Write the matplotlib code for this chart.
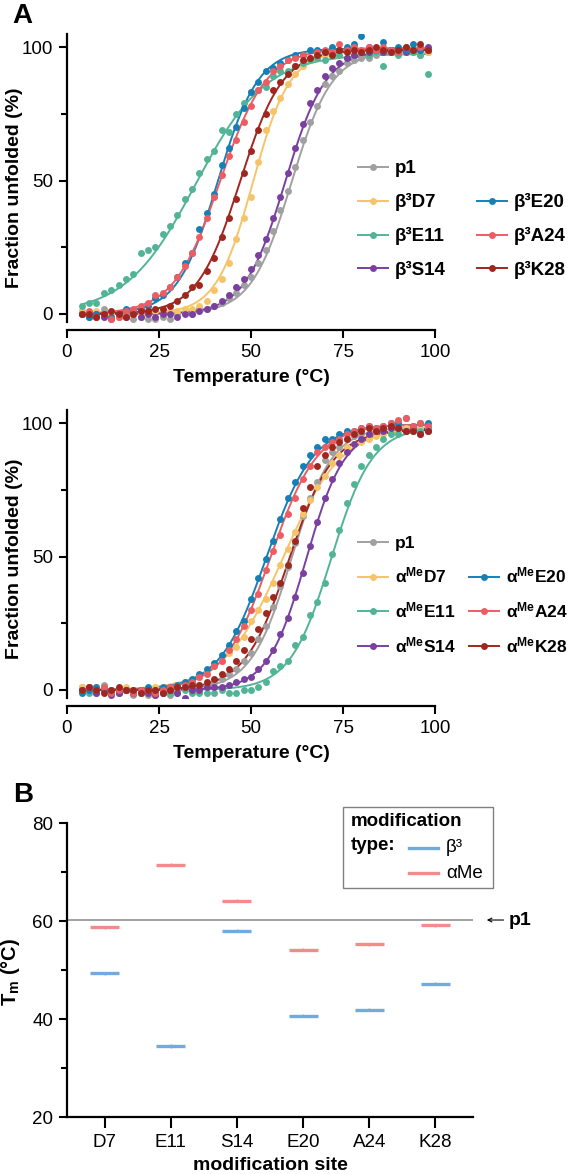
import matplotlib
import numpy as np

matplotlib.use("Agg")
import matplotlib.pyplot as plt
from matplotlib.lines import Line2D
from matplotlib.patches import Rectangle

plt.rcParams["font.family"] = ["Liberation Sans", "DejaVu Sans"]
plt.rcParams["mathtext.fontset"] = "custom"
plt.rcParams["mathtext.rm"] = "Liberation Sans"
plt.rcParams["mathtext.bf"] = "Liberation Sans:bold"
plt.rcParams["mathtext.it"] = "Liberation Sans:italic"

# measurement temperatures (deg C)
temps = [4, 6, 8, 10, 12, 14, 16, 18, 20, 22, 24, 26, 28, 30, 32, 34,
         36, 38, 40, 42, 44, 46, 48, 50, 52, 54, 56, 58, 60, 62, 64, 66,
         68, 70, 72, 74, 76, 78, 80, 82, 84, 86, 88, 90, 92, 94, 96, 98]

# fraction unfolded (%)
p1 = [1, 0, -1, 2, 0, -1, 0, -2, -1, -2, -2, -1, -2, 0, 1, 0,
      2, 2, 3, 4, 6, 8, 11, 14, 19, 24, 31, 39, 46, 55, 65, 72,
      78, 86, 89, 91, 94, 95, 96, 96, 97, 98, 98, 98, 98, 98, 97, 98]
b3_d7 = [1, 0, 1, -1, 0, -1, -1, 0, 0, 0, 1, 0, 1, 1, 2, 2,
         3, 5, 9, 13, 19, 28, 36, 44, 57, 69, 76, 81, 86, 90, 93, 95,
         96, 97, 98, 97, 98, 99, 98, 99, 98, 99, 98, 99, 98, 99, 98, 98]
b3_e11 = [3, 4, 4, 8, 9, 11, 13, 15, 23, 24, 25, 30, 33, 37, 43, 47,
          53, 58, 61, 69, 68, 75, 79, 83, 84, 85, 89, 91, 91, 93, 94, 95,
          96, 95, 97, 97, 96, 97, 98, 97, 98, 93, 98, 97, 99, 98, 97, 90]
b3_s14 = [0, -1, 0, -1, -2, 0, -1, 0, -1, 0, -1, 0, 0, -1, 0, 0,
          1, 2, 3, 5, 7, 10, 13, 17, 22, 28, 36, 44, 53, 62, 71, 79,
          84, 89, 92, 94, 96, 97, 98, 98, 99, 98, 99, 99, 98, 99, 99, 100]
b3_e20 = [0, -1, 0, 0, -1, 0, 2, 1, 2, 3, 6, 7, 10, 14, 19, 23,
          32, 38, 45, 56, 62, 70, 77, 83, 87, 91, 92, 94, 95, 97, 97, 99,
          99, 98, 100, 99, 100, 101, 104, 100, 99, 102, 99, 100, 99, 101, 99, 99]
b3_a24 = [0, 1, -1, 0, -2, -1, 1, 2, 3, 4, 7, 8, 10, 14, 18, 23,
          29, 36, 44, 52, 59, 65, 72, 78, 84, 87, 91, 93, 95, 96, 97, 96,
          98, 99, 98, 101, 99, 100, 99, 100, 99, 100, 99, 98, 100, 99, 100, 99]
b3_k28 = [0, 0, -1, 0, 1, 0, -1, 0, 1, 1, 2, 2, 3, 5, 7, 10,
          11, 16, 21, 29, 36, 43, 53, 61, 69, 75, 84, 87, 90, 93, 95, 96,
          97, 98, 97, 99, 98, 99, 98, 99, 100, 99, 98, 99, 100, 99, 101, 99]
am_d7 = [1, 0, 1, 0, -1, 0, 1, 0, -1, 0, 1, 0, 1, 2, 3, 3,
         5, 7, 9, 11, 14, 16, 20, 26, 30, 34, 40, 47, 53, 59, 66, 71,
         76, 80, 85, 88, 91, 92, 93, 94, 95, 96, 97, 97, 98, 97, 98, 98]
am_e11 = [0, -1, 0, 1, 0, -1, 0, 0, -1, 0, -1, 0, -1, -1, 0, -1,
          -1, -1, -1, 0, -1, -1, 0, 0, 1, 3, 7, 9, 11, 17, 20, 28,
          33, 40, 51, 60, 70, 77, 84, 88, 91, 94, 96, 96, 97, 97, 97, 98]
am_s14 = [0, 1, -1, 0, -2, -1, 0, -1, 0, -1, -2, -1, 0, -1, -3, 0,
          0, 1, 1, 1, 2, 3, 4, 5, 8, 11, 15, 21, 27, 35, 44, 54,
          63, 72, 79, 85, 89, 92, 94, 96, 97, 97, 98, 98, 97, 98, 96, 97]
am_e20 = [-1, 0, 1, 0, -1, 0, 0, -1, 0, 1, 0, 1, 1, 2, 3, 4,
          6, 8, 10, 13, 17, 22, 26, 34, 42, 49, 56, 64, 72, 78, 84, 88,
          91, 94, 94, 96, 97, 97, 98, 99, 98, 99, 100, 100, 102, 99, 100, 100]
am_a24 = [0, 1, 0, 1, -1, 0, 0, -1, 0, 0, -1, 0, 1, 1, 2, 3,
          5, 6, 9, 11, 15, 19, 24, 30, 36, 45, 52, 58, 66, 72, 79, 84,
          89, 91, 93, 94, 96, 97, 98, 99, 98, 99, 100, 101, 102, 99, 100, 99]
am_k28 = [0, 1, 0, -1, 0, 1, 0, 0, -1, 0, 0, -1, 0, 1, 1, 2,
          2, 3, 4, 6, 8, 11, 15, 19, 23, 29, 35, 40, 47, 56, 68, 76,
          84, 88, 91, 93, 94, 96, 97, 98, 97, 98, 99, 98, 97, 97, 96, 97]

# sigmoid fit parameters: (midpoint, slope, plateau)
fit_p1 = (61.0, 5.5, 98.5)
fit_b3 = [(50.5, 5.0, 98.5), (35.0, 9.5, 97.5), (59.3, 5.5, 99.0),
          (41.0, 5.5, 99.5), (41.6, 6.3, 99.5), (47.0, 5.8, 99.0)]
fit_am = [(58.7, 8.0, 99.0), (71.8, 5.6, 98.5), (65.0, 5.2, 98.0),
          (54.2, 6.4, 99.5), (55.3, 6.4, 99.5), (60.3, 6.0, 97.5)]

site_names = ["D7", "E11", "S14", "E20", "A24", "K28"]
colors = ["#f5c46a", "#52b497", "#7b3f9e", "#1580b6", "#ec5d63", "#a0271f"]
p1_color = "#a0a0a0"

# panel B: melting temperatures (deg C)
tm_beta3 = [49.3, 34.4, 58.0, 40.7, 41.9, 47.2]
tm_alphame = [58.7, 71.5, 64.1, 54.1, 55.3, 59.1]
tm_beta3_err = [0.3, 0.4, 0.3, 0.3, 0.3, 0.3]
tm_alphame_err = [0.3, 0.3, 0.3, 0.3, 0.3, 0.3]
tm_p1 = 60.2

W, H = 577, 1174
BLUE_B = "#74a9de"
PINK_B = "#f38b8d"


def fx(x):
    return x / W


def fy(y):
    return 1 - y / H


def style_axes(ax):
    ax.spines[["top", "right"]].set_visible(False)
    for side in ("left", "bottom"):
        ax.spines[side].set_linewidth(1.6)
    ax.tick_params(which="major", direction="out", length=6, width=1.5,
                   labelsize=13.5, pad=4)
    ax.tick_params(which="minor", direction="out", length=4.5, width=1.5)


def melt_panel(ax, series, fits, labels, fsize, colspace):
    t_fit = np.linspace(temps[0], temps[-1], 300)
    handles = []
    for vals, (tm, w, top), color, label in zip(series, fits, [p1_color] + colors, labels):
        ax.plot(t_fit, top / (1 + np.exp((tm - t_fit) / w)), color=color, lw=1.4, zorder=2)
        ax.plot(temps, vals, "o", color=color, ms=5, mec="none", zorder=3)
        handles.append(Line2D([0], [0], color=color, lw=1.4, marker="o", ms=5, mec="none",
                              label=label))
    blank = Line2D([0], [0], alpha=0, label=" ")
    order = handles[:4] + [blank] + handles[4:]
    hl = 30 / (fsize * 100 / 72)
    ax.legend(handles=order, ncol=2, loc="upper left", bbox_to_anchor=(0.791, 0.562),
              frameon=False, prop={"weight": "bold", "size": fsize}, handlelength=hl,
              handletextpad=0.37, labelspacing=0.85, columnspacing=colspace,
              borderpad=0, borderaxespad=0, numpoints=1)
    ax.set_xlim(0, 100)
    ax.set_ylim(-3, 105)
    ax.set_xticks([0, 25, 50, 75, 100])
    ax.set_yticks([0, 50, 100])
    ax.set_yticks([25, 75], minor=True)
    style_axes(ax)
    ax.spines["bottom"].set_position(("outward", 6))


fig = plt.figure(figsize=(W / 100, H / 100), dpi=100)

ax_top = fig.add_axes([fx(67), fy(322), 368 / W, 288.3 / H])
melt_panel(ax_top, [p1, b3_d7, b3_e11, b3_s14, b3_e20, b3_a24, b3_k28],
           [fit_p1] + fit_b3, ["p1"] + ["β³" + s for s in site_names], 13.5, 1.65)

ax_mid = fig.add_axes([fx(67), fy(698), 368 / W, 288.3 / H])
melt_panel(ax_mid, [p1, am_d7, am_e11, am_s14, am_e20, am_a24, am_k28],
           [fit_p1] + fit_am, ["p1"] + [r"α$^{\mathbf{Me}}$" + s for s in site_names],
           12.5, 0.8)

for yc_label, yc_title in ((188, 378), (559, 754)):
    fig.text(fx(15), fy(yc_label), "Fraction unfolded (%)", rotation=90, ha="center",
             va="center", fontsize=14, fontweight="bold")
    fig.text(fx(251), fy(yc_title), "Temperature (°C)", ha="center", va="center",
             fontsize=14, fontweight="bold")

fig.text(fx(12), fy(16), "A", ha="left", va="center", fontsize=20, fontweight="bold")
fig.text(fx(13), fy(795), "B", ha="left", va="center", fontsize=20, fontweight="bold")

# panel B
ax_b = fig.add_axes([fx(67), fy(1117), 406 / W, 294 / H])
x = np.arange(len(site_names))
half = 0.22
ax_b.axhline(tm_p1, color="#9a9a9a", lw=1.3, zorder=1)
ax_b.hlines(tm_beta3, x - half, x + half, color=BLUE_B, lw=2.4, zorder=3)
ax_b.hlines(tm_alphame, x - half, x + half, color=PINK_B, lw=2.4, zorder=3)
ax_b.errorbar(x, tm_beta3, yerr=tm_beta3_err, fmt="none", ecolor=BLUE_B, elinewidth=1, zorder=3)
ax_b.errorbar(x, tm_alphame, yerr=tm_alphame_err, fmt="none", ecolor=PINK_B, elinewidth=1,
              zorder=3)
ax_b.set_xlim(-0.57, len(site_names) - 0.43)
ax_b.set_ylim(20, 80)
ax_b.set_xticks(x)
ax_b.set_xticklabels(site_names)
ax_b.set_yticks([20, 40, 60, 80])
ax_b.set_yticks([30, 50, 70], minor=True)
style_axes(ax_b)
ax_b.tick_params(axis="x", length=8)
ax_b.annotate("p1", xy=(1.034, tm_p1), xycoords=ax_b.get_yaxis_transform(),
              xytext=(1.089, tm_p1), textcoords=ax_b.get_yaxis_transform(),
              ha="left", va="center", fontsize=14, fontweight="bold",
              arrowprops=dict(arrowstyle="->", lw=0.8, color="black", shrinkA=2, shrinkB=0,
                              mutation_scale=7),
              annotation_clip=False)

fig.text(fx(11), fy(972), r"T$_{\mathbf{m}}$ (°C)", rotation=90, ha="center", va="center",
         fontsize=14.5, fontweight="bold")
fig.text(fx(270), fy(1165), "modification site", ha="center", va="center",
         fontsize=14, fontweight="bold")

# panel B legend box
fig.add_artist(Rectangle((fx(343), fy(888)), 150 / W, 81 / H, transform=fig.transFigure,
                         fill=False, edgecolor="#808080", lw=1.0))
fig.text(fx(351), fy(821), "modification", ha="left", va="center", fontsize=13.5,
         fontweight="bold")
fig.text(fx(351), fy(845), "type:", ha="left", va="center", fontsize=13.5, fontweight="bold")
for yy, col, lab in ((848, BLUE_B, "β³"), (873, PINK_B, "αMe")):
    fig.add_artist(Line2D([fx(409), fx(438)], [fy(yy), fy(yy)], transform=fig.transFigure,
                          color=col, lw=2.4))
    fig.text(fx(446), fy(yy), lab, ha="left", va="center", fontsize=13.5)

fig.savefig("out.png", dpi=100)
